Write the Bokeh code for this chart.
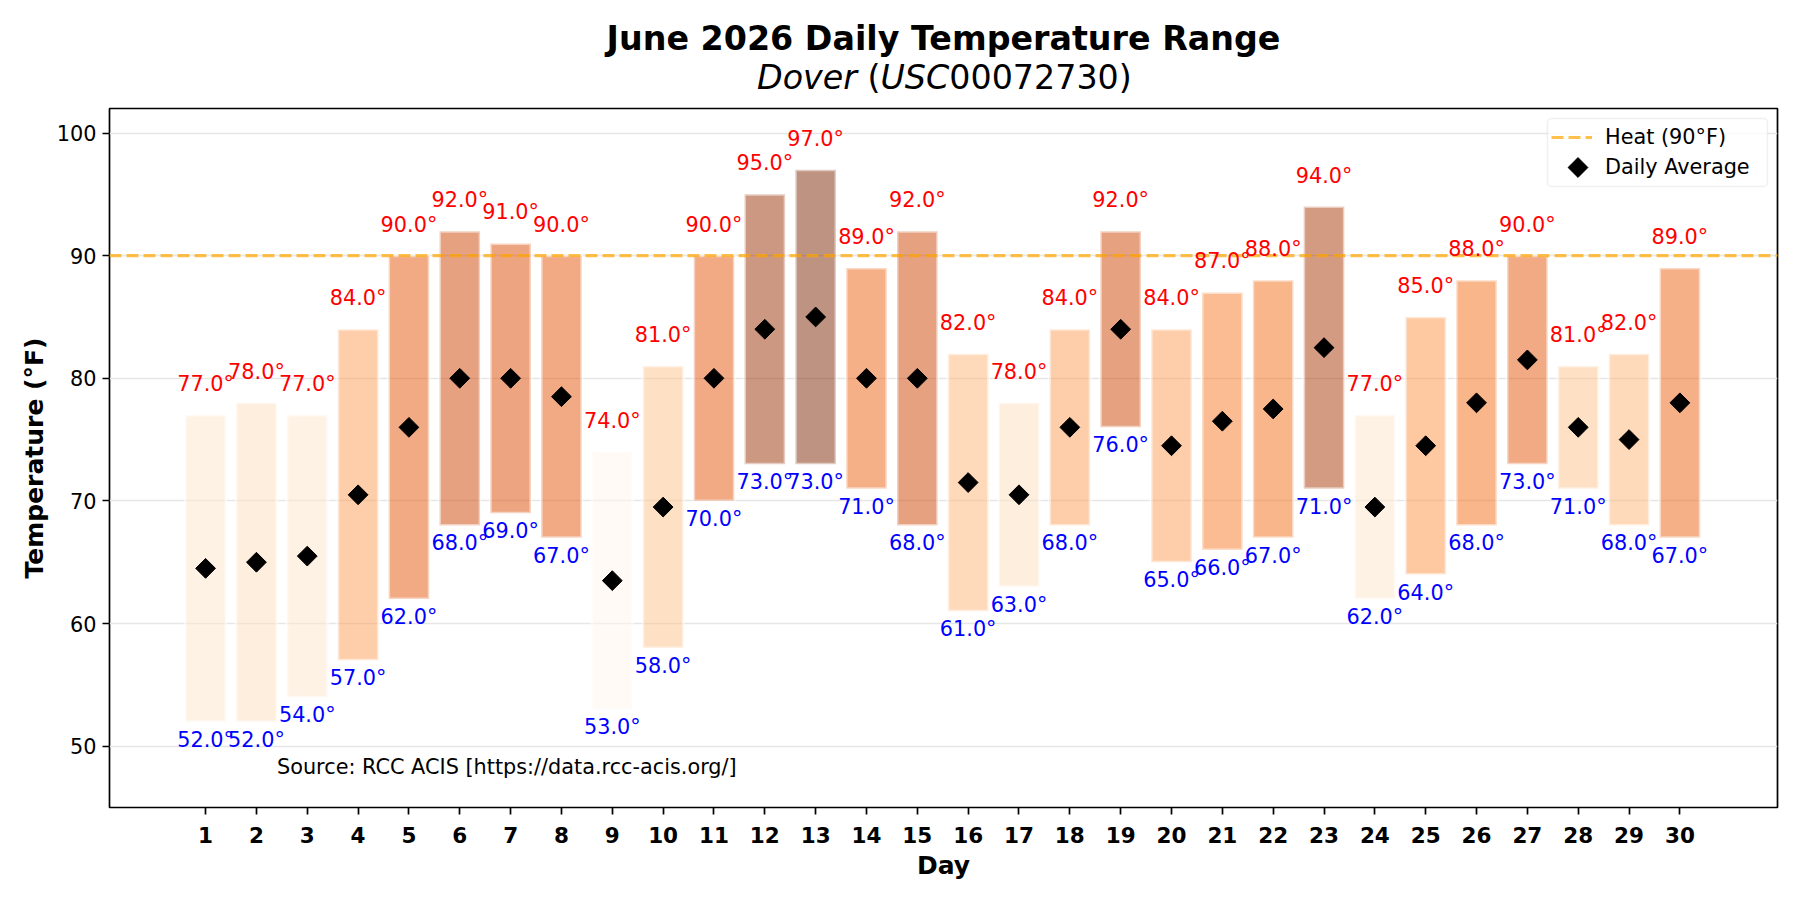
import math
from bokeh.plotting import figure
from bokeh.layouts import column
from bokeh.models import (ColumnDataSource, Range1d, FixedTicker, Label,
                          Legend, LegendItem, BoxAnnotation)
from bokeh.core.properties import value
from bokeh.embed import file_html
from bokeh.resources import INLINE

# ---------------- data ----------------
DAYS = list(range(1, 31))
HIGHS = [77, 78, 77, 84, 90, 92, 91, 90, 74, 81, 90, 95, 97, 89, 92,
         82, 78, 84, 92, 84, 87, 88, 94, 77, 85, 88, 90, 81, 82, 89]
LOWS = [52, 52, 54, 57, 62, 68, 69, 67, 53, 58, 70, 73, 73, 71, 68,
        61, 63, 68, 76, 65, 66, 67, 71, 62, 64, 68, 73, 71, 68, 67]
AVERAGES = [64.5, 65, 65.5, 70.5, 76, 80, 80, 78.5, 63.5, 69.5, 80, 84, 85, 80, 80,
            71.5, 70.5, 76, 84, 74.5, 76.5, 77.5, 82.5, 69.5, 74.5, 78, 81.5, 76, 75, 78]
HEAT_THRESHOLD = 90
Y_TICKS = [50, 60, 70, 80, 90, 100]
TITLE = "June 2026 Daily Temperature Range"
STATION = "Dover"
STATION_ID_ALPHA = "USC"
STATION_ID_NUM = "00072730"
SOURCE = "Source: RCC ACIS [https://data.rcc-acis.org/]"
X_LABEL = "Day"
Y_LABEL = "Temperature (°F)"
HEAT_LABEL = f"Heat ({HEAT_THRESHOLD}°F)"
AVG_LABEL = "Daily Average"

FONT = "DejaVu Sans"

# matplotlib "Oranges" anchor colours
ORANGES = ["#fff5eb", "#fee6ce", "#fdd0a2", "#fdae6b", "#fd8d3c",
           "#f16913", "#d94801", "#a63603", "#7f2704"]


def oranges(t):
    t = min(max(t, 0.0), 1.0)
    n = len(ORANGES) - 1
    pos = t * n
    i = min(int(pos), n - 1)
    f = pos - i
    c0 = [int(ORANGES[i][k:k + 2], 16) for k in (1, 3, 5)]
    c1 = [int(ORANGES[i + 1][k:k + 2], 16) for k in (1, 3, 5)]
    c = [round(a + (b - a) * f) for a, b in zip(c0, c1)]
    return "#%02x%02x%02x" % tuple(c)


hmin, hmax = min(HIGHS), max(HIGHS)
colors = [oranges((h - hmin) / (hmax - hmin)) for h in HIGHS]

src = ColumnDataSource(dict(
    day=DAYS, high=HIGHS, low=LOWS, avg=AVERAGES, color=colors,
    high_label=[f"{h:.1f}°" for h in HIGHS],
    low_label=[f"{l:.1f}°" for l in LOWS],
))

# ---------------- layout constants ----------------
TITLE_H = 100
FRAME_W, FRAME_H = 1668, 699
B_LEFT, B_TOP, B_RIGHT = 109, 8, 23
MAIN_H = 800
B_BOTTOM = MAIN_H - B_TOP - FRAME_H

X0, X1 = -0.89, 31.92
Y0, Y1 = 45, 102

# ---------------- title figure ----------------
t = figure(frame_width=FRAME_W, frame_height=TITLE_H,
           min_border_left=B_LEFT, min_border_right=B_RIGHT,
           min_border_top=0, min_border_bottom=0,
           x_range=Range1d(0, FRAME_W), y_range=Range1d(0, TITLE_H),
           x_axis_location=None, y_axis_location=None,
           output_backend="svg", toolbar_location=None)
t.grid.visible = False
t.outline_line_color = None

t.add_layout(Label(x=834, y=62, x_units="screen", y_units="screen",
                   text=TITLE, text_font=FONT, text_font_size="33.3px",
                   text_font_style="bold", text_align="center",
                   text_baseline="alphabetic", text_color="black"))
sub_parts = [
    (647.5, STATION, "italic"),
    (758.0, "(", "normal"),
    (771.0, STATION_ID_ALPHA, "italic"),
    (839.8, STATION_ID_NUM + ")", "normal"),
]
for sx, txt, style in sub_parts:
    t.add_layout(Label(x=sx, y=23, x_units="screen", y_units="screen",
                       text=txt, text_font=FONT, text_font_size="33.3px",
                       text_font_style=style, text_align="left",
                       text_baseline="alphabetic", text_color="black"))

# ---------------- main figure ----------------
p = figure(
    frame_width=FRAME_W, frame_height=FRAME_H,
    min_border_left=B_LEFT, min_border_top=B_TOP, min_border_right=B_RIGHT,
    min_border_bottom=B_BOTTOM,
    x_range=Range1d(X0, X1), y_range=Range1d(Y0, Y1),
    output_backend="svg", toolbar_location=None,
    background_fill_color="white", border_fill_color="white",
)
p.outline_line_color = "black"
p.outline_line_width = 1.7

# bars
p.vbar(x="day", width=0.8, bottom="low", top="high", source=src,
       fill_color="color", fill_alpha=0.5,
       line_color="white", line_alpha=0.5, line_width=3)

# heat line
heat = p.line(x=[X0, X1], y=[HEAT_THRESHOLD, HEAT_THRESHOLD],
              line_color="orange", line_alpha=0.7, line_width=3.1,
              line_dash="12 5")

# average markers
avg_r = p.scatter(x="day", y="avg", source=src, marker="square",
                  angle=math.pi / 4, size=14,
                  fill_color="black", line_color="black")

# labels
p.text(x="day", y="high", text="high_label", source=src,
       text_color="red", text_font=value(FONT), text_font_size="20.8px",
       text_align="center", text_baseline="alphabetic", y_offset=-31)
p.text(x="day", y="low", text="low_label", source=src,
       text_color="blue", text_font=value(FONT), text_font_size="20.8px",
       text_align="center", text_baseline="alphabetic", y_offset=18)

# axes
p.xaxis.ticker = FixedTicker(ticks=DAYS)
p.yaxis.ticker = FixedTicker(ticks=Y_TICKS)
for ax in (p.xaxis[0], p.yaxis[0]):
    ax.axis_line_color = None
    ax.major_tick_line_color = "black"
    ax.major_tick_line_width = 1.7
    ax.major_tick_out = 7
    ax.major_tick_in = 0
    ax.minor_tick_line_color = None
    ax.major_label_text_font = FONT
    ax.major_label_text_color = "black"
    ax.axis_label_text_font = FONT
    ax.axis_label_text_font_style = "bold"
    ax.axis_label_text_font_size = "25px"
    ax.axis_label_text_color = "black"

p.xaxis.major_label_text_font_size = "21.5px"
p.xaxis.major_label_text_font_style = "bold"
p.xaxis.major_label_standoff = 12
p.xaxis.axis_label = X_LABEL
p.xaxis.axis_label_standoff = 5

p.yaxis.major_label_text_font_size = "20.8px"
p.yaxis.major_label_standoff = 6
p.yaxis.axis_label = Y_LABEL
p.yaxis.axis_label_standoff = 5

p.xgrid.visible = False
p.ygrid.grid_line_color = "#e6e6e6"
p.ygrid.grid_line_width = 1.5

# legend box (frame-relative pixels)
BOX_LEFT, BOX_BOTTOM, BOX_W, BOX_H = 1438, 621, 220, 68
LEG_PAD, LEG_GW, LEG_GH, LEG_SP, LEG_STANDOFF = 6, 41, 26, 4, 13
LEG_X = BOX_LEFT + 4
LEG_Y = BOX_BOTTOM + 6.5

p.add_layout(BoxAnnotation(left=BOX_LEFT, right=BOX_LEFT + BOX_W,
                           bottom=BOX_BOTTOM, top=BOX_BOTTOM + BOX_H,
                           left_units="screen", right_units="screen",
                           bottom_units="screen", top_units="screen",
                           fill_color="white", fill_alpha=0.8,
                           line_color="#cccccc", line_width=1.5,
                           border_radius=4, level="glyph"))

legend_marker = p.scatter(x=[], y=[], marker="square", fill_alpha=0, line_alpha=0)
legend = Legend(items=[
    LegendItem(label=HEAT_LABEL, renderers=[heat]),
    LegendItem(label=AVG_LABEL, renderers=[legend_marker]),
], location=(LEG_X, LEG_Y))
legend.label_text_font = FONT
legend.label_text_font_size = "20.8px"
legend.label_text_color = "black"
legend.glyph_width = LEG_GW
legend.glyph_height = LEG_GH
legend.label_height = LEG_GH
legend.spacing = LEG_SP
legend.padding = LEG_PAD
legend.margin = 0
legend.label_standoff = LEG_STANDOFF
legend.border_line_color = None
legend.background_fill_alpha = 0
p.add_layout(legend)

# rotated-square marker for the legend's second row
ppx = FRAME_W / (X1 - X0)
ppy = FRAME_H / (Y1 - Y0)
mk_sx = LEG_X + LEG_PAD + LEG_GW / 2
mk_sy = BOX_BOTTOM + BOX_H - 49
p.scatter(x=[X0 + mk_sx / ppx], y=[Y0 + mk_sy / ppy], marker="square",
          angle=math.pi / 4, size=14, fill_color="black",
          line_color="black", level="overlay")

# source note
p.add_layout(Label(x=167.5, y=41, x_units="screen", y_units="screen",
                   text=SOURCE, text_font=FONT, text_font_size="20.8px",
                   text_align="left", text_baseline="alphabetic",
                   text_color="black"))

layout = column(t, p, spacing=0)
open("out.html", "w").write(file_html(layout, INLINE))
